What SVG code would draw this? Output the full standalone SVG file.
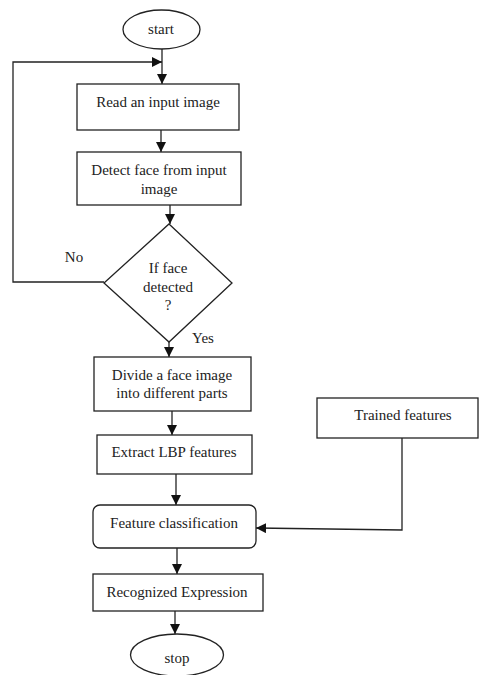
<svg xmlns="http://www.w3.org/2000/svg" width="482" height="675" viewBox="0 0 482 675">
<style>
.s{fill:#fff;stroke:#222;stroke-width:1.3}
.t{font-family:"Liberation Serif","Times New Roman",serif;font-size:15px;fill:#222;text-anchor:middle}
.c{fill:none;stroke:#222;stroke-width:1.3}
</style>
<defs>
<marker id="a" markerUnits="userSpaceOnUse" markerWidth="10" markerHeight="10" refX="10" refY="5" orient="auto">
<path d="M0,0 L10,5 L0,10 z" fill="#111"/>
</marker>
</defs>
<rect width="482" height="675" fill="#fff"/>
<g id="connectors">
<path class="c" d="M162,49 V84" marker-end="url(#a)"/>
<path class="c" d="M104,282 H13 V62 H162" marker-end="url(#a)"/>
<path class="c" d="M161,130 V152" marker-end="url(#a)"/>
<path class="c" d="M170,205 V224" marker-end="url(#a)"/>
<path class="c" d="M169,342 V357" marker-end="url(#a)"/>
<path class="c" d="M172,411 V435" marker-end="url(#a)"/>
<path class="c" d="M176,474 V505" marker-end="url(#a)"/>
<path class="c" d="M402,438 V530 L256,528" marker-end="url(#a)"/>
<path class="c" d="M177,548 V574" marker-end="url(#a)"/>
<path class="c" d="M175,611 V634" marker-end="url(#a)"/>
<text class="t" x="74" y="262">No</text>
<text class="t" x="203" y="343">Yes</text>
</g>
<g id="start">
<ellipse class="s" cx="161.5" cy="29.5" rx="38.5" ry="19.5"/>
<text class="t" x="161" y="34">start</text>
</g>
<g id="read">
<rect class="s" x="77" y="84" width="162" height="46"/>
<text class="t" x="158" y="107">Read an input image</text>
</g>
<g id="detect">
<rect class="s" x="77" y="152" width="164" height="53"/>
<text class="t" x="159" y="175">Detect face from input</text>
<text class="t" x="159" y="194">image</text>
</g>
<g id="decision">
<polygon class="s" points="169,224 232,283 169,342 104,283"/>
<text class="t" x="168" y="273">If face</text>
<text class="t" x="168" y="292">detected</text>
<text class="t" x="168" y="310">?</text>
</g>
<g id="divide">
<rect class="s" x="94" y="357" width="157" height="54"/>
<text class="t" x="172" y="380">Divide a face image</text>
<text class="t" x="172" y="398">into different parts</text>
</g>
<g id="extract">
<rect class="s" x="97" y="435" width="155" height="39"/>
<text class="t" x="174" y="457">Extract LBP features</text>
</g>
<g id="trained">
<rect class="s" x="317" y="398" width="161" height="40"/>
<text class="t" x="403" y="420">Trained features</text>
</g>
<g id="classify">
<rect class="s" x="93" y="505" width="163" height="43" rx="7"/>
<text class="t" x="174" y="528">Feature classification</text>
</g>
<g id="recognized">
<rect class="s" x="93" y="574" width="170" height="37"/>
<text class="t" x="177" y="597">Recognized Expression</text>
</g>
<g id="stop">
<ellipse class="s" cx="177" cy="655" rx="46.5" ry="21"/>
<text class="t" x="177" y="663">stop</text>
</g>
</svg>
